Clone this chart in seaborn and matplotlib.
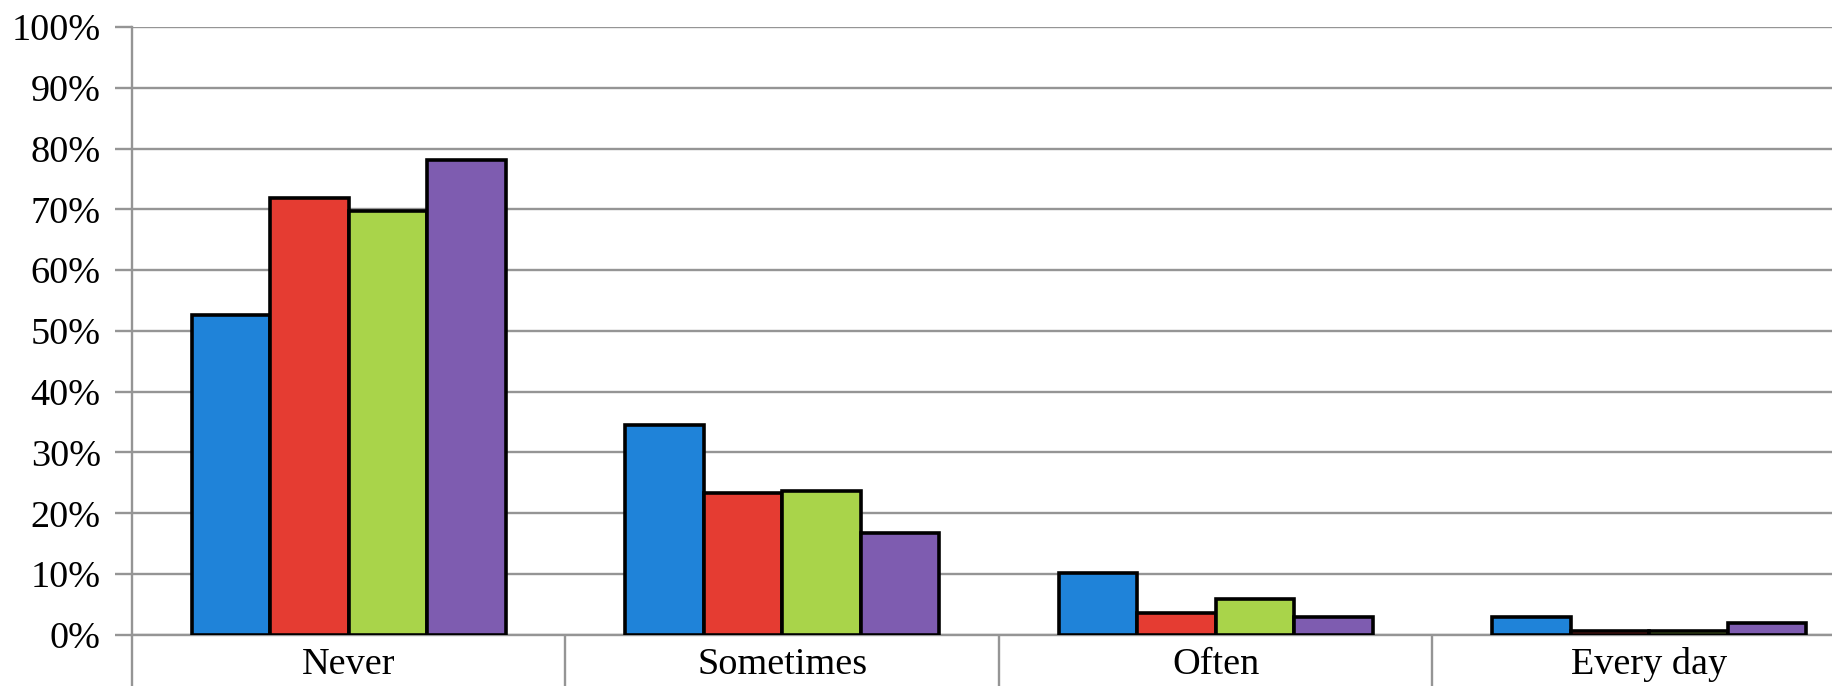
import matplotlib
matplotlib.use("Agg")
import matplotlib.pyplot as plt
from matplotlib.ticker import FixedLocator, FuncFormatter
import seaborn as sns
import pandas as pd

# Response frequency categories and the four groups compared
categories = ["Never", "Sometimes", "Often", "Every day"]
groups = ["Group 1", "Group 2", "Group 3", "Group 4"]

# Share of respondents (%) per category, one list per group
group1 = [52.6, 34.5, 10.2, 3.0]
group2 = [71.9, 23.3, 3.6, 0.7]
group3 = [69.7, 23.6, 5.9, 0.7]
group4 = [78.2, 16.8, 2.9, 1.9]

palette = ["#1f83d9", "#e53c32", "#a9d44a", "#7e5cb0"]
y_ticks = list(range(0, 101, 10))

rows = []
for g, vals in zip(groups, [group1, group2, group3, group4]):
    for c, v in zip(categories, vals):
        rows.append({"category": c, "group": g, "value": v})
df = pd.DataFrame(rows)

sns.set_theme(style="white")
plt.rcParams["font.family"] = ["Liberation Serif", "DejaVu Serif"]

fig = plt.figure(figsize=(18.33, 6.86), dpi=100)
# plot area runs past the right edge of the figure
ax = fig.add_axes([0.072, 0.0746, 0.946, 0.886])

grid_col = "#959595"

sns.barplot(data=df, x="category", y="value", hue="group", order=categories,
            hue_order=groups, palette=palette, width=0.725, gap=0,
            edgecolor="black", linewidth=2.6, saturation=1, legend=False,
            ax=ax, zorder=3)

ax.set_ylim(0, 100)
ax.set_xlim(-0.5, 3.5)
ax.yaxis.set_major_locator(FixedLocator(y_ticks))
ax.yaxis.set_major_formatter(FuncFormatter(lambda v, p: f"{int(v)}%"))
ax.grid(axis="y", color=grid_col, linewidth=1.7, zorder=0)
ax.grid(axis="x", visible=False)
ax.set_axisbelow(True)

for side in ["top", "right"]:
    ax.spines[side].set_visible(False)
for side in ["left", "bottom"]:
    ax.spines[side].set_color(grid_col)
    ax.spines[side].set_linewidth(1.7)
    ax.spines[side].set_zorder(1)

ax.tick_params(axis="y", which="major", direction="out", length=12.5, width=1.7,
               color=grid_col, pad=10, labelsize=27.5, labelcolor="black", left=True)
# category separators hang down below the baseline
ax.xaxis.set_minor_locator(FixedLocator([-0.5, 0.5, 1.5, 2.5, 3.5]))
ax.tick_params(axis="x", which="minor", direction="out", length=45, width=1.7,
               color=grid_col, bottom=True)
ax.tick_params(axis="x", which="major", length=0, pad=9, labelsize=27.5,
               labelcolor="black")

ax.set_xlabel("")
ax.set_ylabel("")

fig.savefig("out.png", dpi=100, facecolor="white")
